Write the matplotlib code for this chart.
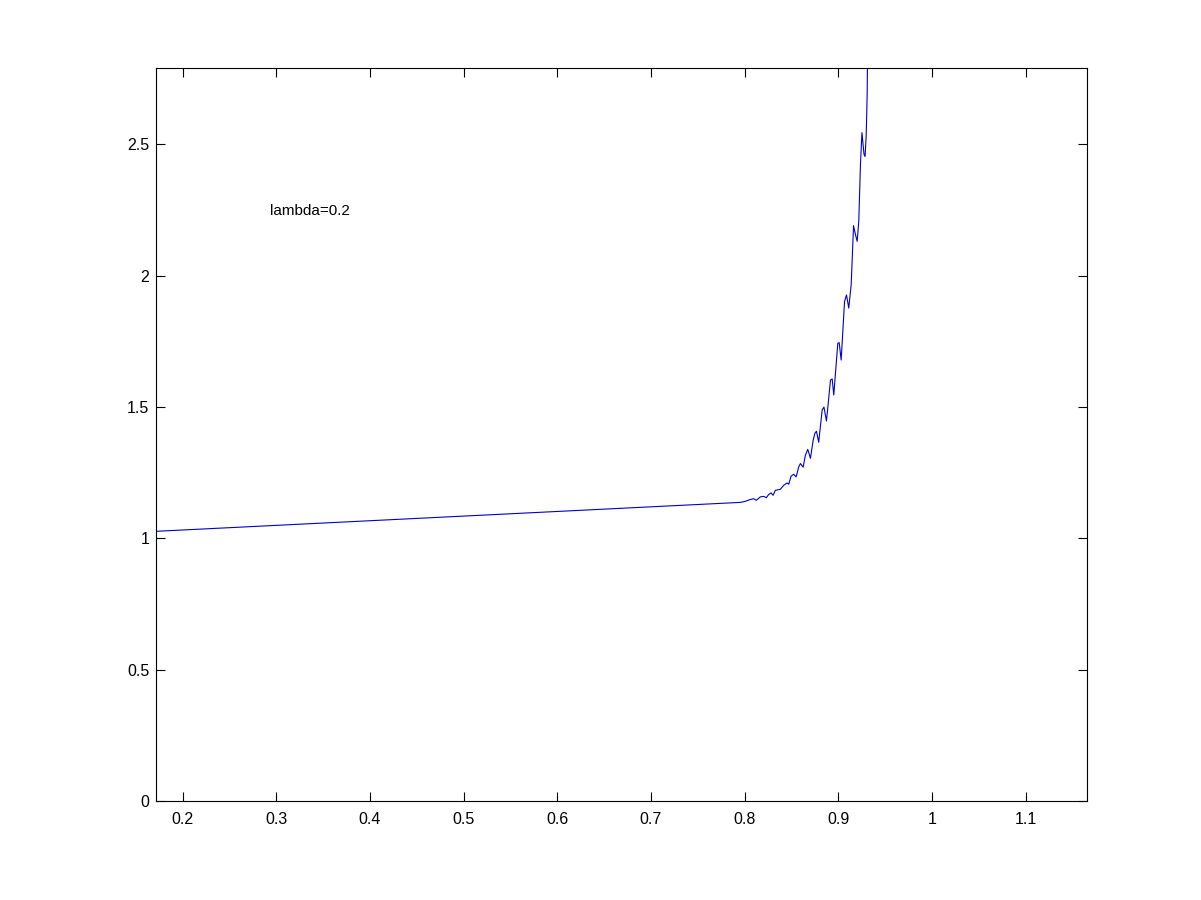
import matplotlib
matplotlib.use('Agg')
import matplotlib.pyplot as plt

# curve: straight part, then the wiggly climb
x_vals = [0.172, 0.7954, 0.8007, 0.8061, 0.8096, 0.8125, 0.8168, 0.8203,
          0.8232, 0.8257, 0.8282, 0.8304, 0.8328, 0.8382, 0.8417, 0.8453,
          0.8471, 0.8496, 0.8524, 0.8550, 0.8578, 0.8596, 0.8625, 0.8649,
          0.8674, 0.8703, 0.8732, 0.8751, 0.8767, 0.8791, 0.8828, 0.8847,
          0.8874, 0.8917, 0.8935, 0.8952, 0.8995, 0.9010, 0.9031, 0.9067,
          0.9088, 0.9112, 0.9138, 0.9163, 0.9184, 0.9202, 0.9219, 0.9237,
          0.9253, 0.9275, 0.9286, 0.9298, 0.9309, 0.9312]
y_vals = [1.027, 1.137, 1.141, 1.148, 1.151, 1.145, 1.158, 1.160,
          1.155, 1.167, 1.173, 1.164, 1.183, 1.187, 1.202, 1.211,
          1.206, 1.237, 1.244, 1.234, 1.272, 1.285, 1.271, 1.317,
          1.339, 1.305, 1.374, 1.401, 1.408, 1.366, 1.489, 1.500,
          1.447, 1.603, 1.607, 1.546, 1.743, 1.745, 1.679, 1.902,
          1.927, 1.877, 1.966, 2.191, 2.156, 2.131, 2.207, 2.424,
          2.545, 2.462, 2.454, 2.531, 2.697, 2.824]

x_ticks = [0.2, 0.3, 0.4, 0.5, 0.6, 0.7, 0.8, 0.9, 1.0, 1.1]
x_labels = ['0.2', '0.3', '0.4', '0.5', '0.6', '0.7', '0.8', '0.9', '1', '1.1']
y_ticks = [0, 0.5, 1.0, 1.5, 2.0, 2.5]
y_labels = ['0', '0.5', '1', '1.5', '2', '2.5']

plt.rcParams['font.family'] = ['Liberation Sans', 'DejaVu Sans']

fig = plt.figure(figsize=(12.01, 9), dpi=100)
ax = fig.add_axes([0.13, 0.11, 0.775, 0.815])

ax.plot(x_vals, y_vals, color='#0000cc', linewidth=0.8)

ax.set_xlim(0.1716, 1.1655)
ax.set_ylim(0, 2.793)
ax.set_xticks(x_ticks)
ax.set_xticklabels(x_labels)
ax.set_yticks(y_ticks)
ax.set_yticklabels(y_labels)
ax.tick_params(direction='in', length=6.5, width=0.8, top=True, right=True,
               labelsize=11.5, colors='black')
ax.tick_params(axis='x', pad=8)
ax.tick_params(axis='y', pad=5)
for s in ax.spines.values():
    s.set_linewidth(0.8)

ax.text(0.293, 2.245, 'lambda=0.2', fontsize=11, ha='left', va='center')

fig.savefig('out.png', dpi=100)
